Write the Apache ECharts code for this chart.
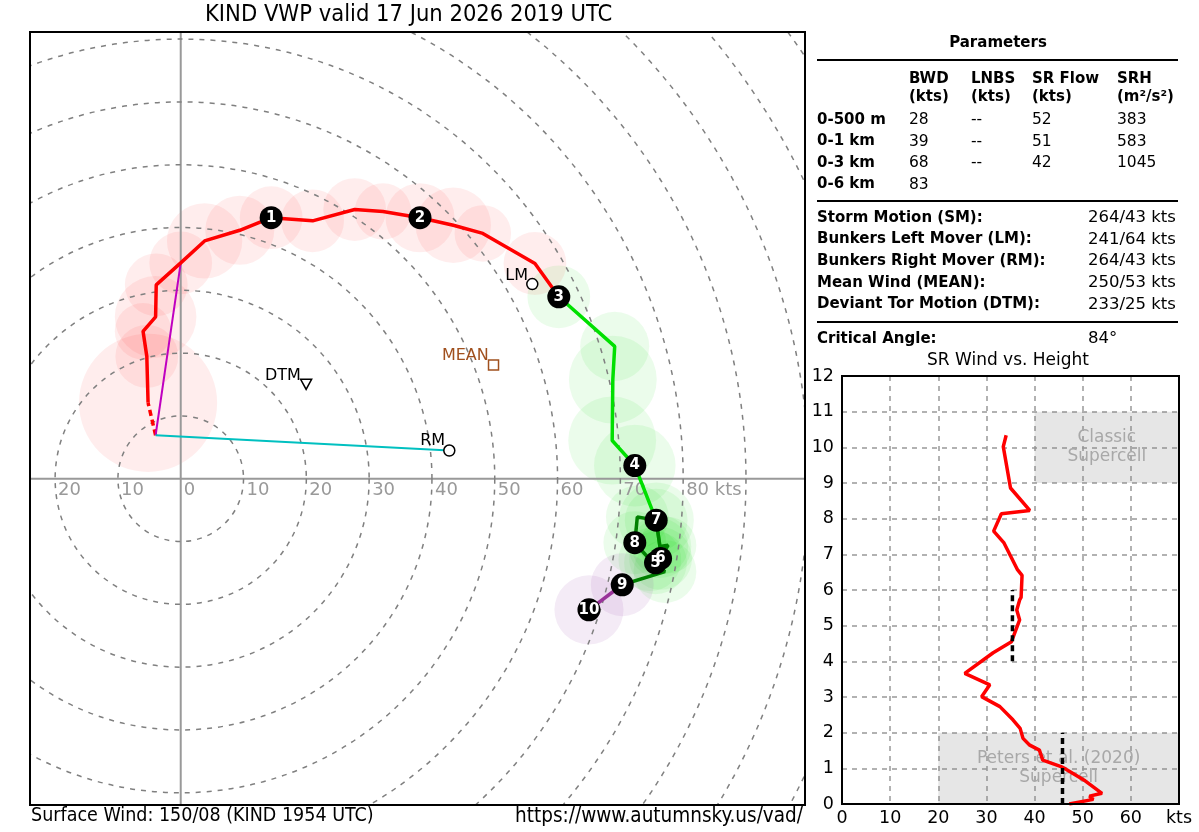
<!DOCTYPE html>
<html>
<head>
<meta charset="utf-8">
<title>KIND VWP</title>
<script src="https://cdn.jsdelivr.net/npm/echarts@6/dist/echarts.min.js"></script>
<style>
    html, body {margin: 0; padding: 0; background: #fff;}
    #main {width: 1199px; height: 832px;}
</style>
</head>
<body>
<div id="main"></div>
<script>
// 风廓线 (kts) 与高度 (km)
var hodoU = [-5.2, -5.4, -6.0, -4.0, -3.9, 0.0, 3.8, 9.4, 14.4, 21.0, 27.7, 32.2, 38.1, 43.4, 48.1, 56.4, 60.2,
    69.1, 68.8, 68.7, 72.3, 75.7, 76.3, 75.6, 76.4,
    77.6, 76.3, 75.7, 72.7, 72.3, 74.7, 77.1, 70.3,
    65.0];
var hodoV = [12.1, 19.5, 23.5, 25.8, 30.9, 34.4, 37.9, 39.6, 41.6, 41.1, 42.9, 42.6, 41.6, 40.4, 39.1, 34.3, 29.0,
    21.1, 15.8, 6.1, 2.1, -6.6, -10.8, -13.4, -12.7,
    -10.6, -10.8, -6.6, -6.1, -10.2, -12.9, -14.8, -16.9,
    -20.9];
var hodoZ = [0.1, 0.2, 0.3, 0.35, 0.4, 0.5, 0.65, 0.8, 1.0, 1.25, 1.5, 1.75, 2.0, 2.3, 2.5, 2.75, 3.0,
    3.3, 3.5, 3.8, 4.0, 4.5, 4.8, 5.0, 6.0,
    6.3, 6.6, 7.0, 7.5, 8.0, 8.3, 8.6, 9.0,
    10.0];
// 误差圈半径 (kts)
var hodoErr = [11, 5, 4.5, 6.5, 5, 5, 6, 5.5, 5, 5, 5, 4.5, 5.5, 6, 4.5, 5, 5,
    5.5, 7, 7, 6.5, 6, 5, 5, 5,
    4.5, 4.5, 5, 5, 5, 5, 5, 5,
    5.5];
var heightMarks = [1, 2, 3, 4, 5, 6, 7, 8, 9, 10];
var ringKts = [10, 20, 30, 40, 50, 60, 70, 80, 90, 100, 110, 120, 130];
var ringTicks = [-20, -10, 0, 10, 20, 30, 40, 50, 60, 70, 80];

// 风向/风速
var sfcWind = [150, 8];
var lmWind = [241, 64];
var rmWind = [264, 43];
var meanWind = [250, 53];
var dtmWind = [233, 25];

// 参数表
var layerNames = ['0-500 m', '0-1 km', '0-3 km', '0-6 km'];
var bwdVals = ['28', '39', '68', '83'];
var lnbsVals = ['--', '--', '--', ''];
var srFlowVals = ['52', '51', '42', ''];
var srhVals = ['383', '583', '1045', ''];
var motionNames = ['Storm Motion (SM):', 'Bunkers Left Mover (LM):', 'Bunkers Right Mover (RM):', 'Mean Wind (MEAN):', 'Deviant Tor Motion (DTM):'];
var motionVals = ['264/43 kts', '241/64 kts', '264/43 kts', '250/53 kts', '233/25 kts'];
var criticalAngle = '84°';

// 风暴相对风速 vs 高度
var srKts = [47.2, 52.2, 51.4, 54.0, 50.5, 46.6, 45.5, 41.7, 41.0, 39.0, 37.6, 37.0, 35.5, 32.8, 29.0, 30.7, 25.5,
    31.4, 35.2, 36.9, 36.3, 36.9, 37.2, 37.4, 36.4, 33.6, 31.5, 33.1, 39.0, 35.0, 33.5, 34.1];
var srKm = [0.0, 0.13, 0.22, 0.30, 0.65, 0.97, 1.05, 1.23, 1.51, 1.65, 1.84, 2.12, 2.36, 2.73, 3.01, 3.34, 3.66,
    4.24, 4.55, 5.16, 5.44, 5.72, 5.79, 6.41, 6.58, 7.33, 7.65, 8.14, 8.23, 8.86, 10.02, 10.34];
var meanLow = [45.8, 0, 2];    // 0-2 km 平均
var meanMid = [35.4, 4, 6];    // 4-6 km 平均

var FONT = "'DejaVu Sans', Verdana, sans-serif";
var COND = "'DejaVu Sans Condensed', 'Liberation Sans Narrow', 'DejaVu Sans', sans-serif";

function uv(w) {
    var r = w[0] * Math.PI / 180;
    return [-w[1] * Math.sin(r), -w[1] * Math.cos(r)];
}
var sfc = uv(sfcWind);

function segment(lo, hi) {
    var out = [];
    for (var i = 0; i < hodoZ.length; i++) {
        if (hodoZ[i] >= lo && hodoZ[i] <= hi) out.push([hodoU[i], hodoV[i]]);
    }
    return out;
}
function pointAt(z) {
    var i = hodoZ.indexOf(z);
    return [hodoU[i], hodoV[i]];
}
function diskColor(z) {
    if (z < 3) return 'rgba(255,0,0,0.07)';
    if (z < 9) return 'rgba(0,220,0,0.08)';
    return 'rgba(150,60,170,0.10)';
}

var chart = echarts.init(document.getElementById('main'), null, {renderer: 'canvas'});

var hodoLine = function (name, data, color, extra) {
    var s = {
        name: name, type: 'line', xAxisIndex: 0, yAxisIndex: 0,
        data: data, showSymbol: false, silent: true, z: 5,
        lineStyle: {color: color, width: 3.5}
    };
    for (var k in extra) s.lineStyle[k] = extra[k];
    return s;
};

var motionPoint = function (w, label, symbol, size, item, off, labelColor) {
    var p = uv(w);
    item.opacity = 1;
    return {
        type: 'scatter', xAxisIndex: 0, yAxisIndex: 0, z: 8, silent: true,
        data: [[p[0], p[1]]], symbol: symbol, symbolSize: size, itemStyle: item,
        label: {
            show: true, formatter: label, position: 'left', offset: off,
            color: labelColor || '#000', fontFamily: FONT, fontSize: 16
        }
    };
};

var graphics = [
    {type: 'text', left: 205, top: 3, style: {text: 'KIND VWP valid 17 Jun 2026 2019 UTC', font: '23.5px ' + COND, fill: '#000'}},
    {type: 'text', left: 31, top: 806, style: {text: 'Surface Wind: 150/08 (KIND 1954 UTC)', font: '19.5px ' + COND, fill: '#000'}},
    {type: 'text', right: 396, top: 806, style: {text: 'https://www.autumnsky.us/vad/', font: '20.5px ' + COND, fill: '#000'}},
    {type: 'text', x: 998, y: 43, style: {text: 'Parameters', font: 'bold 15px ' + FONT, fill: '#000', align: 'center', verticalAlign: 'middle'}},
    {type: 'line', shape: {x1: 817, y1: 60, x2: 1178, y2: 60}, style: {stroke: '#000', lineWidth: 2}},
    {type: 'line', shape: {x1: 817, y1: 201, x2: 1178, y2: 201}, style: {stroke: '#000', lineWidth: 2}},
    {type: 'line', shape: {x1: 817, y1: 322, x2: 1178, y2: 322}, style: {stroke: '#000', lineWidth: 2}}
];
function txt(x, y, s, bold, size) {
    graphics.push({type: 'text', x: x, y: y, style: {
        text: s, font: (bold ? 'bold ' : '') + (size || 15) + 'px ' + FONT, fill: '#000',
        align: 'left', verticalAlign: 'middle'}});
}
var colX = [909, 971, 1032, 1117];
var heads = [['BWD', '(kts)'], ['LNBS', '(kts)'], ['SR Flow', '(kts)'], ['SRH', '(m²/s²)']];
heads.forEach(function (h, i) { txt(colX[i], 79, h[0], true); txt(colX[i], 97, h[1], true); });
layerNames.forEach(function (n, i) {
    var y = 120 + i * 21.5;
    txt(817, y, n, true);
    txt(colX[0], y, bwdVals[i], false, 15.5);
    txt(colX[1], y, lnbsVals[i], false, 15.5);
    txt(colX[2], y, srFlowVals[i], false, 15.5);
    txt(colX[3], y, srhVals[i], false, 15.5);
});
motionNames.forEach(function (n, i) {
    var y = 218 + i * 21.6;
    txt(817, y, n, true);
    txt(1088, y, motionVals[i], false, 16.5);
});
txt(817, 339, 'Critical Angle:', true);
txt(1088, 339, criticalAngle, false, 16.5);
graphics.push({type: 'text', x: 1008, y: 361, style: {text: 'SR Wind vs. Height', font: '17px ' + FONT, fill: '#000', align: 'center', verticalAlign: 'middle'}});

// 边框 (画在网格线之上)
var frameSeries = function (idx) {
    return {
        type: 'custom', xAxisIndex: idx, yAxisIndex: idx, z: 20, silent: true,
        encode: {x: 0, y: 1}, data: [[0, 0]],
        renderItem: function (params) {
            var cs = params.coordSys;
            return {type: 'rect', shape: {x: cs.x, y: cs.y, width: cs.width, height: cs.height},
                style: {fill: null, stroke: '#000', lineWidth: 2}};
        }
    };
};

var option = {
    animation: false,
    backgroundColor: '#fff',
    graphic: graphics,
    grid: [
        {left: 30, top: 32, width: 775, height: 773, show: false},
        {left: 842, top: 376, width: 337, height: 428, show: false}
    ],
    xAxis: [
        {type: 'value', gridIndex: 0, min: -24, max: 99.4, show: false},
        {type: 'value', gridIndex: 1, min: 0, max: 70, interval: 10,
            axisLine: {show: false}, axisTick: {show: false},
            axisLabel: {color: '#000', fontFamily: FONT, fontSize: 17.5, margin: 5,
                formatter: function (v) { return v === 70 ? 'kts' : v; }},
            splitLine: {show: true, lineStyle: {color: '#999', width: 1.5, type: [5, 5]}}}
    ],
    yAxis: [
        {type: 'value', gridIndex: 0, min: -52, max: 71.2, show: false},
        {type: 'value', gridIndex: 1, min: 0, max: 12, interval: 1,
            axisLine: {show: false}, axisTick: {show: false},
            axisLabel: {color: '#000', fontFamily: FONT, fontSize: 17.5, margin: 8},
            splitLine: {show: true, lineStyle: {color: '#999', width: 1.5, type: [5, 5]}}}
    ],
    series: [
        {   // 误差圈
            type: 'custom', xAxisIndex: 0, yAxisIndex: 0, z: 1, silent: true,
            encode: {x: 0, y: 1},
            data: hodoU.map(function (u, i) { return [u, hodoV[i], hodoErr[i], hodoZ[i]]; }),
            renderItem: function (params, api) {
                var c = api.coord([api.value(0), api.value(1)]);
                var r = api.size([api.value(2), 0])[0];
                return {type: 'circle', shape: {cx: c[0], cy: c[1], r: r}, style: {fill: diskColor(api.value(3))}};
            }
        },
        {   // 零轴
            type: 'custom', xAxisIndex: 0, yAxisIndex: 0, z: 2, silent: true,
            encode: {x: 0, y: 1},
            data: [[0, 0]],
            renderItem: function (params, api) {
                var c = api.coord([0, 0]), cs = params.coordSys;
                return {type: 'group', children: [
                    {type: 'line', shape: {x1: c[0], y1: cs.y, x2: c[0], y2: cs.y + cs.height}, style: {stroke: '#999', lineWidth: 2}},
                    {type: 'line', shape: {x1: cs.x, y1: c[1], x2: cs.x + cs.width, y2: c[1]}, style: {stroke: '#999', lineWidth: 2}}
                ]};
            }
        },
        {   // 距离环
            type: 'custom', xAxisIndex: 0, yAxisIndex: 0, z: 2, silent: true,
            encode: {x: 0, y: 1},
            data: ringKts.map(function (r) { return [0, 0, r]; }),
            renderItem: function (params, api) {
                var c = api.coord([0, 0]), cs = params.coordSys;
                var r = api.size([api.value(2), 0])[0];
                return {type: 'group',
                    clipPath: {type: 'rect', shape: {x: cs.x, y: cs.y, width: cs.width, height: cs.height}},
                    children: [{type: 'circle', shape: {cx: c[0], cy: c[1], r: r},
                        style: {fill: null, stroke: '#808080', lineWidth: 1.5, lineDash: [5, 6]}}]};
            }
        },
        {   // 环刻度
            type: 'custom', xAxisIndex: 0, yAxisIndex: 0, z: 3, silent: true,
            encode: {x: 0, y: 1},
            data: ringTicks.map(function (v) { return [v, 0]; }),
            renderItem: function (params, api) {
                var v = api.value(0);
                var c = api.coord([v, 0]);
                var s = Math.abs(v) + (v === 80 ? ' kts' : '');
                return {type: 'text', x: c[0] + 3, y: c[1] + 12,
                    style: {text: s, fill: '#999', fontFamily: FONT, fontSize: 18, align: 'left', verticalAlign: 'middle'}};
            }
        },
        hodoLine('sfc', [sfc, pointAt(0.1)], '#ff0000', {type: [6, 4]}),
        hodoLine('crit', [sfc, pointAt(0.5)], '#c000c0', {width: 2}),
        hodoLine('rm', [sfc, uv(rmWind)], '#00c0c0', {width: 2}),
        hodoLine('0-3', segment(0, 3), '#ff0000'),
        hodoLine('3-6', segment(3, 6), '#00e000'),
        hodoLine('6-9', segment(6, 9), '#008000'),
        hodoLine('9-12', segment(9, 12), '#993399'),
        motionPoint(lmWind, 'LM', 'circle', 11, {color: '#fff', borderColor: '#000', borderWidth: 1.5}, [7, -8]),
        motionPoint(rmWind, 'RM', 'circle', 11, {color: '#fff', borderColor: '#000', borderWidth: 1.5}, [7, -10]),
        motionPoint(meanWind, 'MEAN', 'rect', 10, {color: 'rgba(0,0,0,0)', borderColor: '#a0501e', borderWidth: 1.5}, [6, -9], '#a0501e'),
        motionPoint(dtmWind, 'DTM', 'path://M0,0 L10,0 L5,10 Z', [11, 10], {color: 'rgba(0,0,0,0)', borderColor: '#000', borderWidth: 1.5}, [6, -8]),
        {   // 高度标记
            type: 'scatter', xAxisIndex: 0, yAxisIndex: 0, z: 10, silent: true,
            data: heightMarks.map(function (k) { var p = pointAt(k); return [p[0], p[1], k]; }),
            symbolSize: 23,
            itemStyle: {color: '#000', opacity: 1},
            label: {show: true, position: 'inside', color: '#fff', fontWeight: 'bold', fontSize: 15, fontFamily: FONT,
                formatter: function (p) { return p.value[2]; }}
        },
        frameSeries(0),
        {   // 超级单体区域
            type: 'line', xAxisIndex: 1, yAxisIndex: 1, data: [], z: 1, silent: true,
            markArea: {
                silent: true,
                itemStyle: {color: 'rgba(128,128,128,0.2)'},
                label: {show: true, position: 'inside', color: '#a8a8a8', fontFamily: FONT, fontSize: 17, lineHeight: 19},
                data: [
                    [{xAxis: 40, yAxis: 9, name: 'Classic\nSupercell'}, {xAxis: 70, yAxis: 11}],
                    [{xAxis: 20, yAxis: 0, name: 'Peters et al. (2020)\nSupercell'}, {xAxis: 70, yAxis: 2}]
                ]
            }
        },
        {
            type: 'line', xAxisIndex: 1, yAxisIndex: 1, z: 5, silent: true, showSymbol: false,
            data: srKts.map(function (x, i) { return [x, srKm[i]]; }),
            lineStyle: {color: '#ff0000', width: 3.5}
        },
        {
            type: 'line', xAxisIndex: 1, yAxisIndex: 1, z: 6, silent: true, showSymbol: false,
            data: [[meanLow[0], meanLow[1]], [meanLow[0], meanLow[2]]],
            lineStyle: {color: '#000', width: 3.5, type: [6, 4]}
        },
        {
            type: 'line', xAxisIndex: 1, yAxisIndex: 1, z: 6, silent: true, showSymbol: false,
            data: [[meanMid[0], meanMid[1]], [meanMid[0], meanMid[2]]],
            lineStyle: {color: '#000', width: 3.5, type: [6, 4]}
        },
        frameSeries(1)
    ]
};
chart.setOption(option);
</script>
</body>
</html>
